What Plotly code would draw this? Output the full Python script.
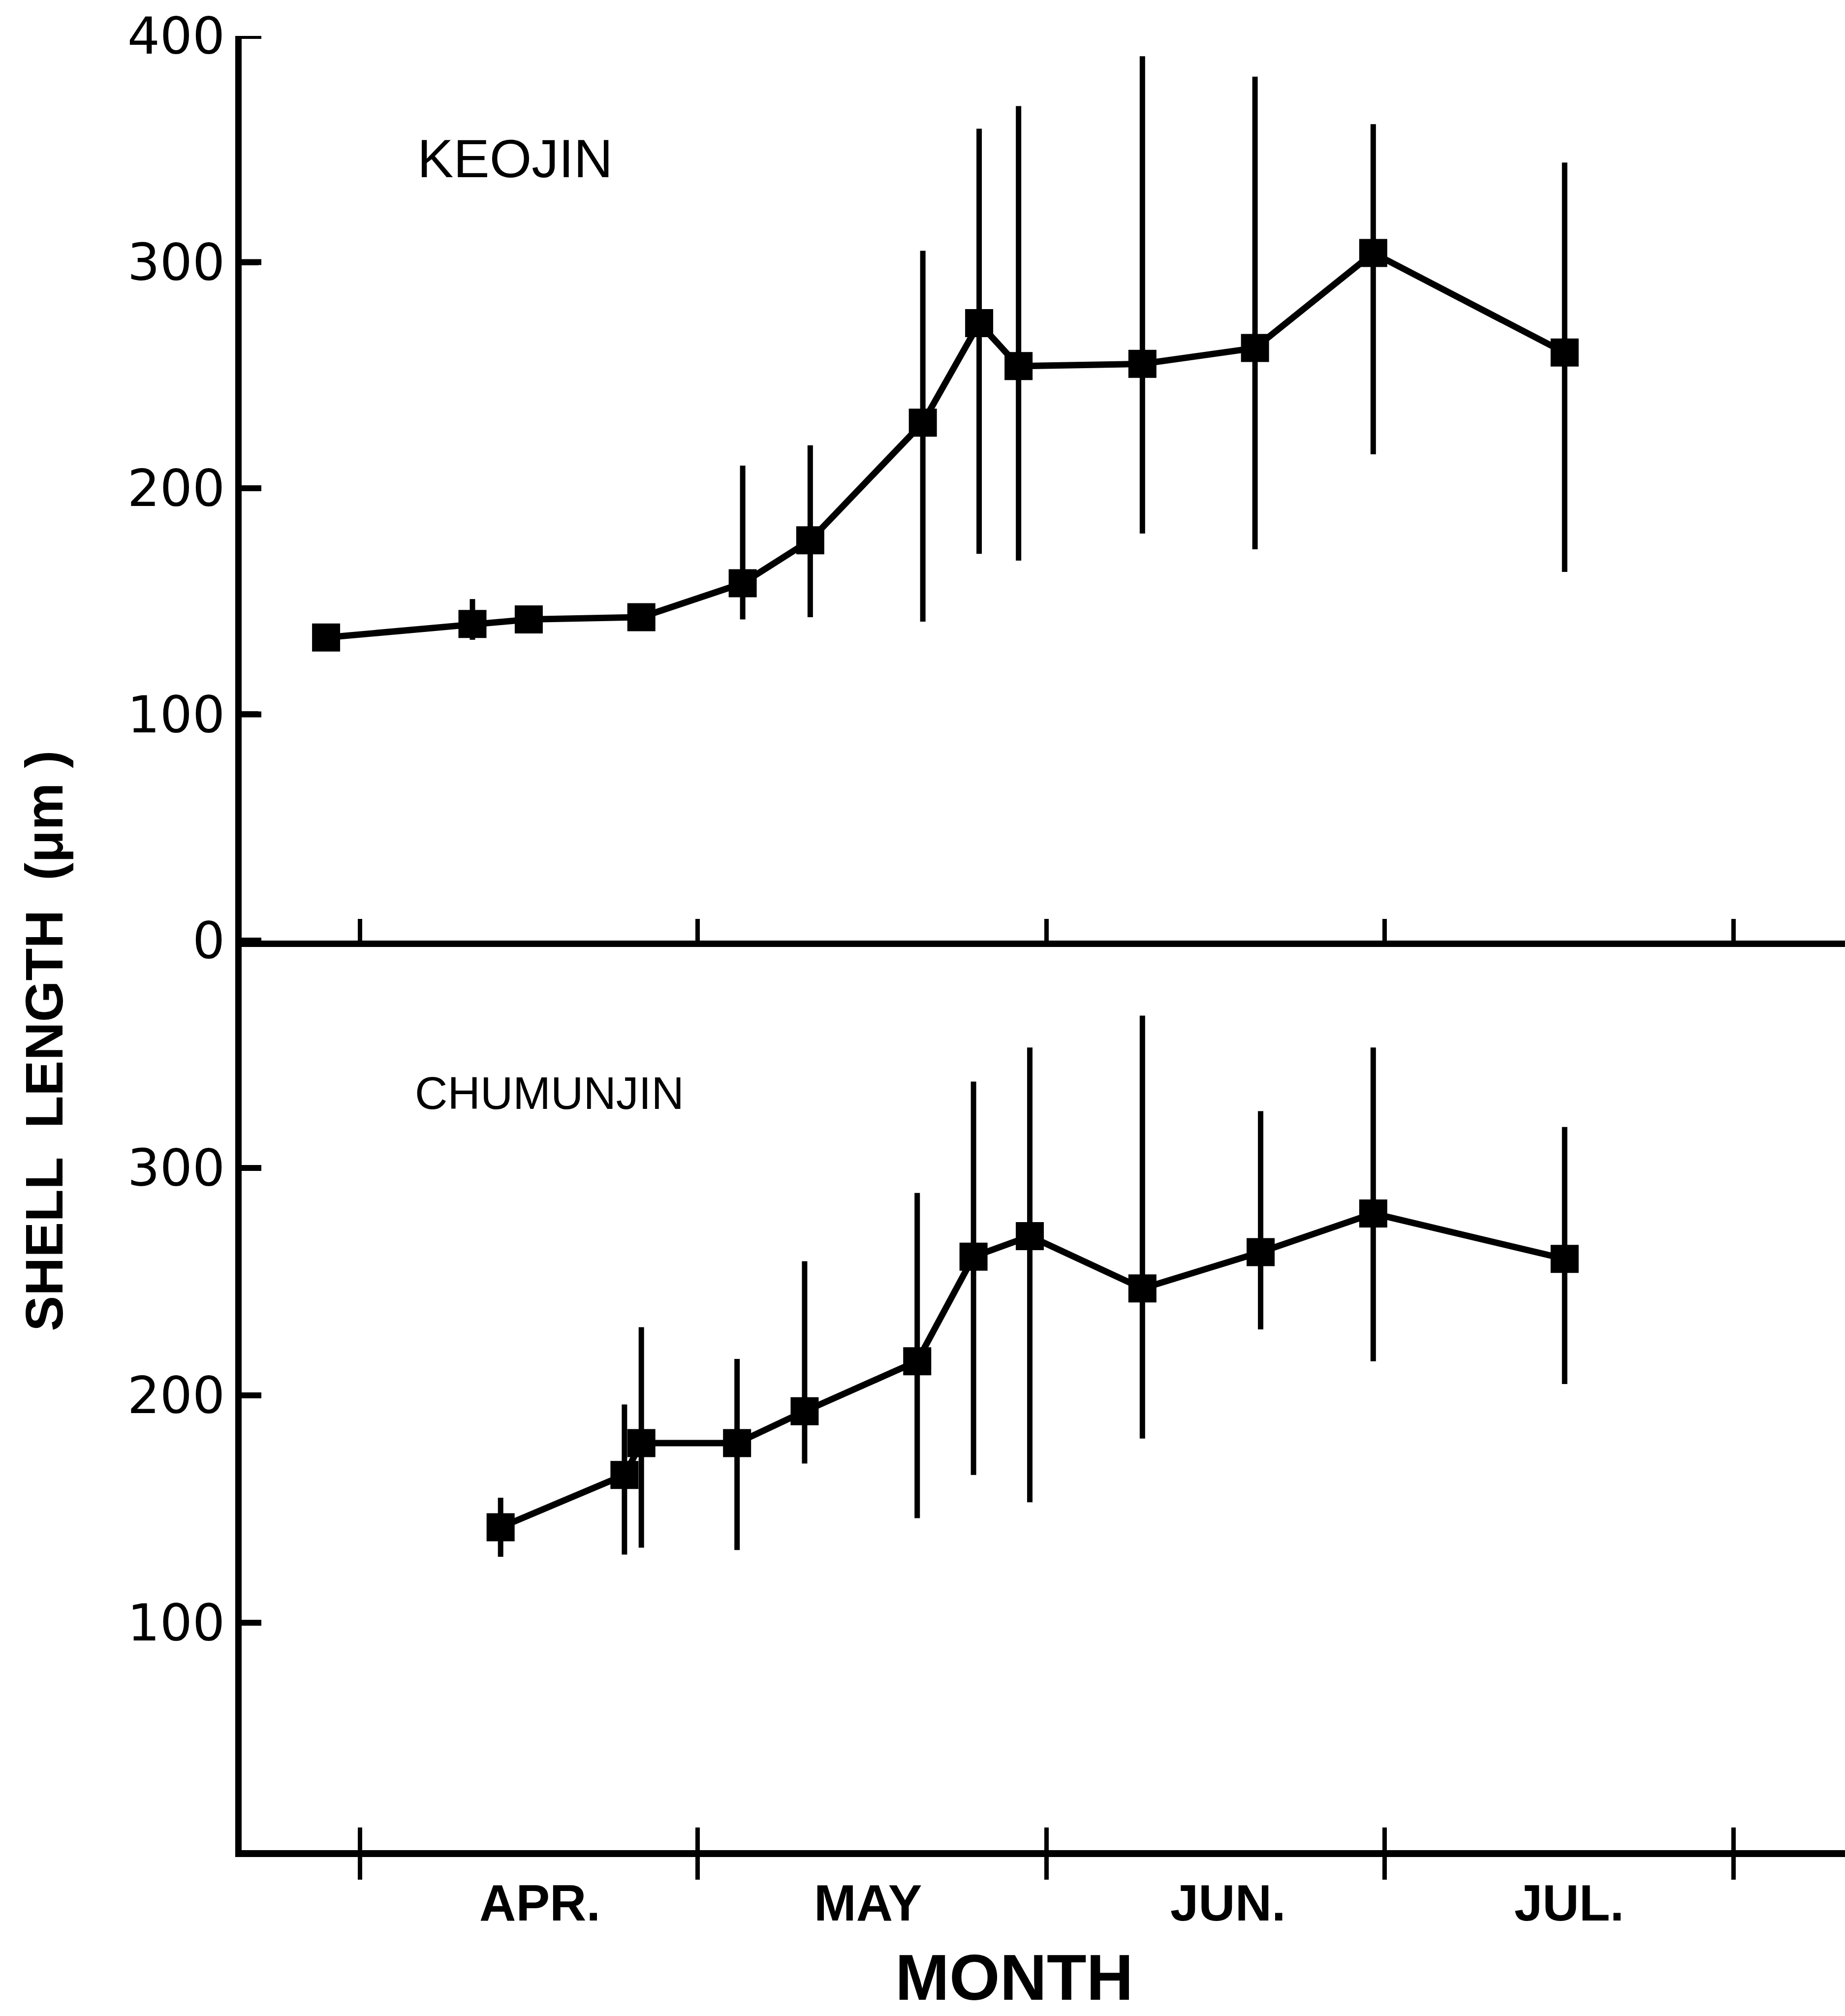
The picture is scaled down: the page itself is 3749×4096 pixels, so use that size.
import plotly.graph_objects as go

# ---- data ----
# x = days after 1 April
month_ticks = [0, 30, 61, 91, 122]
month_label_pos = [16.0, 45.1, 77.1, 107.4]
month_labels = ["APR.", "MAY", "JUN.", "JUL."]

keojin_day = [-3, 10, 15, 25, 34, 40, 50, 55, 58.5, 69.5, 79.5, 90, 107]
keojin_mean = [134, 140, 142, 143, 158, 177, 229, 273, 254, 255, 262, 304, 260]
keojin_upper = [134, 151, 142, 143, 210, 219, 305, 359, 369, 391, 382, 361, 344]
keojin_lower = [134, 133, 142, 143, 142, 143, 141, 171, 168, 180, 173, 215, 163]

chum_day = [12.5, 23.5, 25, 33.5, 39.5, 49.5, 54.5, 59.5, 69.5, 80, 90, 107]
chum_mean = [142, 165, 179, 179, 193, 215, 261, 270, 247, 263, 280, 260]
chum_upper = [155, 196, 230, 216, 259, 289, 338, 353, 367, 325, 353, 318]
chum_lower = [129, 130, 133, 132, 170, 146, 165, 153, 181, 229, 215, 205]

top_yticks = [0, 100, 200, 300, 400]
bottom_yticks = [100, 200, 300]

W, H = 3749, 4096
BLACK = "black"
XR = [-10.5, 131.9]
YR = [0, 400]
YTICK_LEN_DAYS = 1.75   # inward y-tick length, in x-axis units


def err(mean, up, lo):
    return dict(type="data", symmetric=False,
                array=[u - m for u, m in zip(up, mean)],
                arrayminus=[m - l for m, l in zip(mean, lo)],
                color=BLACK, thickness=11, width=0)


def ytick_marks(vals, xa, ya):
    # inward tick marks on the left y axis, drawn as one-sided error bars
    n = len(vals)
    return go.Scatter(
        x=[XR[0]] * n, y=vals, mode="markers",
        marker=dict(size=1, opacity=0), hoverinfo="skip", cliponaxis=False,
        error_x=dict(type="data", symmetric=False,
                     array=[YTICK_LEN_DAYS] * n, arrayminus=[0] * n,
                     color=BLACK, thickness=12, width=0),
        xaxis=xa, yaxis=ya, showlegend=False)


fig = go.Figure()
fig.add_trace(ytick_marks(top_yticks, "x", "y"))
fig.add_trace(ytick_marks(bottom_yticks, "x2", "y2"))
fig.add_trace(go.Scatter(
    x=keojin_day, y=keojin_mean, mode="lines+markers",
    line=dict(color=BLACK, width=13),
    marker=dict(symbol="square", size=57, color=BLACK),
    error_y=err(keojin_mean, keojin_upper, keojin_lower),
    xaxis="x", yaxis="y", showlegend=False))
fig.add_trace(go.Scatter(
    x=chum_day, y=chum_mean, mode="lines+markers",
    line=dict(color=BLACK, width=13),
    marker=dict(symbol="square", size=57, color=BLACK),
    error_y=err(chum_mean, chum_upper, chum_lower),
    xaxis="x2", yaxis="y2", showlegend=False))
# invisible helper so the overlay axis (inner half of crossing ticks) is drawn
fig.add_trace(go.Scatter(
    x=month_ticks, y=[0] * len(month_ticks), mode="markers",
    marker=dict(opacity=0), hoverinfo="skip",
    xaxis="x3", yaxis="y2", showlegend=False))

split = 0.50136
tickfont = dict(family="DejaVu Sans", size=104, color=BLACK)

fig.update_layout(
    template="none",
    width=W, height=H,
    margin=dict(l=491, r=0, t=73, b=337),
    paper_bgcolor="white", plot_bgcolor="white",
    xaxis=dict(domain=[0, 1], anchor="y", range=XR, showline=True,
               linecolor=BLACK, linewidth=13, showgrid=False, zeroline=False,
               tickmode="array", tickvals=month_ticks, ticks="inside",
               ticklen=44, tickwidth=9, tickcolor=BLACK,
               showticklabels=False),
    xaxis2=dict(domain=[0, 1], anchor="y2", range=XR, showline=True,
                linecolor=BLACK, linewidth=14, showgrid=False, zeroline=False,
                tickmode="array", tickvals=month_ticks, ticks="outside",
                ticklen=46, tickwidth=9, tickcolor=BLACK,
                showticklabels=False),
    xaxis3=dict(overlaying="x2", anchor="y2", range=XR, showline=False,
                showgrid=False, zeroline=False, side="bottom",
                tickmode="array", tickvals=month_ticks, ticks="inside",
                ticklen=46, tickwidth=9, tickcolor=BLACK,
                showticklabels=False),
    yaxis=dict(domain=[split, 1], anchor="x", range=YR, showline=True,
               linecolor=BLACK, linewidth=13, showgrid=False, zeroline=False,
               tickmode="array", tickvals=top_yticks, ticks="inside",
               ticklen=34, tickwidth=12, tickcolor=BLACK,
               tickfont=tickfont),
    yaxis2=dict(domain=[0, split], anchor="x2", range=YR, showline=True,
                linecolor=BLACK, linewidth=13, showgrid=False, zeroline=False,
                tickmode="array", tickvals=bottom_yticks, ticks="inside",
                ticklen=34, tickwidth=12, tickcolor=BLACK,
                tickfont=tickfont),
)

ann = []
ann.append(dict(text="KEOJIN", x=5.0, y=346, xref="x", yref="y",
                xanchor="left", yanchor="middle", showarrow=False,
                font=dict(family="Liberation Sans", size=110, color=BLACK)))
ann.append(dict(text="CHUMUNJIN", x=4.8, y=333, xref="x2", yref="y2",
                xanchor="left", yanchor="middle", showarrow=False,
                font=dict(family="Liberation Sans", size=92, color=BLACK)))
for pos, lab in zip(month_label_pos, month_labels):
    ann.append(dict(text=lab, x=pos, y=0, xref="x2", yref="paper",
                    xanchor="center", yanchor="middle", yshift=-107,
                    showarrow=False,
                    font=dict(family="Liberation Sans", size=103, color=BLACK,
                              weight="bold")))
ann.append(dict(text="MONTH", x=0.482, y=0, xref="paper", yref="paper",
                xanchor="center", yanchor="middle", yshift=-258,
                showarrow=False,
                font=dict(family="Liberation Sans", size=132, color=BLACK,
                          weight="bold")))
ann.append(dict(text="SHELL  LENGTH  (μm )", x=-0.1235, y=0.446,
                xref="paper", yref="paper", xanchor="center",
                yanchor="middle", textangle=-90, showarrow=False,
                font=dict(family="Liberation Sans", size=108, color=BLACK,
                          weight="bold")))
fig.update_layout(annotations=ann)

fig.write_html("out.html")
